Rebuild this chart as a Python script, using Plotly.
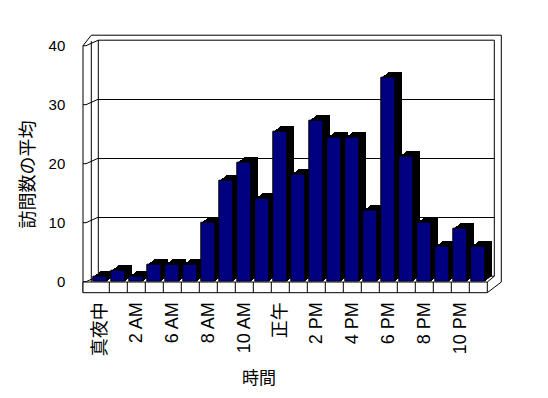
import plotly.graph_objects as go

# ---------------- data ----------------
hours = ["真夜中", "1 AM", "2 AM", "4 AM", "6 AM", "7 AM", "8 AM", "9 AM", "10 AM", "11 AM",
         "正午", "1 PM", "2 PM", "3 PM", "4 PM", "5 PM", "6 PM", "7 PM", "8 PM", "9 PM",
         "10 PM", "11 PM"]
visits = [0.9, 1.9, 0.9, 2.9, 2.9, 2.9, 10, 17.1, 20.2, 14.1, 25.4, 18.1, 27.3, 24.4,
          24.4, 12, 34.6, 21.2, 10, 5.9, 9, 5.9]
y_ticks = [0, 10, 20, 30, 40]
x_title = "時間"
y_title = "訪問数の平均"

# ---------------- geometry (pixels) ----------------
FIG_W, FIG_H = 548, 398
PAGE_OFF = 8                # default body margin of the html page
ML, MR, MT, MB = 72, 48, 22, 108
PW = FIG_W - ML - MR
PH = FIG_H - MT - MB

def xp(px):
    return (px - PAGE_OFF - ML) / PW

def yp(py):
    return (FIG_H - MB - (py - PAGE_OFF)) / PH

FX0, FX1 = 91.3, 487.3      # front plane, category span
FY0, FY1 = 281.7, 45.7      # front plane, value 0 and value 40
DX, DY = 7.0, 5.5           # depth offset (right, up)
YMAX = 40
N = len(hours)
xs = list(range(N))
FONT = "Liberation Sans, Arial, Noto Sans CJK JP, sans-serif"

fig = go.Figure()
layout_axes = {}
depths = [7, 6, 5, 4, 3, 2, 1, 0]
for i, k in enumerate(depths):
    n = i + 1
    sfx = "" if n == 1 else str(n)
    dx = DX * k / 7
    dy = DY * k / 7
    front = (k == 0)
    back = (n == 1)
    fig.add_trace(go.Bar(
        x=xs, y=visits, width=0.83,
        marker=dict(color="#000080" if front else "#000000",
                    line=dict(color="#000000", width=1 if front else 0)),
        xaxis="x" + sfx, yaxis="y" + sfx,
        hoverinfo="skip", showlegend=False,
    ))
    xa = dict(domain=[xp(FX0 + dx), xp(FX1 + dx)], range=[-0.5, N - 0.5],
              anchor="y" + sfx, showgrid=False, zeroline=False, showline=False,
              ticks="", fixedrange=True)
    ya = dict(domain=[yp(FY0 - dy), yp(FY1 - dy)], range=[0, YMAX],
              anchor="x" + sfx, zeroline=False, showline=False, ticks="",
              fixedrange=True, tickvals=y_ticks)
    if front:
        xa.update(tickmode="array", tickvals=xs[::2], ticktext=hours[::2],
                  tickangle=-90, showticklabels=True, ticklabelstandoff=16,
                  tickfont=dict(family=FONT, size=18, color="#000000"))
        ya.update(showgrid=False, showticklabels=True, ticklabelstandoff=25,
                  tickfont=dict(family=FONT, size=15, color="#000000"))
    elif back:
        xa.update(showticklabels=False)
        ya.update(showgrid=True, gridcolor="#000000", gridwidth=1,
                  showticklabels=False)
    else:
        xa.update(visible=False)
        ya.update(visible=False)
    layout_axes["xaxis" + sfx] = xa
    layout_axes["yaxis" + sfx] = ya

FRONT = str(len(depths))

def yfront(v):
    return FY0 - v * (FY0 - FY1) / YMAX

shapes = []
def seg(x0, y0, x1, y1, layer="below"):
    shapes.append(dict(type="line", xref="paper", yref="paper",
                       x0=xp(x0), y0=yp(y0), x1=xp(x1), y1=yp(y1),
                       line=dict(color="#000000", width=1), layer=layer))

BX0, BX1 = FX0 + DX, FX1 + DX
BY0, BY1 = FY0 - DY, FY1 - DY
LW = 83.0                    # left wall outer x
FLB = 292.7                  # floor bottom
FLT = 282.0                  # floor top (front)
OUTX = BX1 + DX              # outer right edge
OUTY = BY1 - DY + 0.5        # outer top edge

# left wall
seg(LW, FY1, LW, FLB)
seg(FX0, FY1 - 4.5, FX0, FLT)
seg(BX0, BY1, BX0, BY0)
# back wall frame
seg(BX0, BY1, BX1, BY1)
seg(BX0, BY0, BX1, BY0)
seg(BX1, BY1, BX1, BY0)
# outer edges
seg(LW, FY1, FX0, OUTY)
seg(FX0, OUTY, OUTX, OUTY)
seg(OUTX, OUTY, OUTX, FLT)
seg(OUTX, FLT, FX1, FLB)
seg(FX1, FLT, BX1, BY0)
# left-wall grid segments
for v in y_ticks:
    yf = yfront(v)
    seg(LW, yf, LW + 3, yf)
    seg(LW + 3, yf, BX0, yf - DY)
# floor front face
shapes.append(dict(type="rect", xref="paper", yref="paper",
                   x0=xp(LW), y0=yp(FLB), x1=xp(FX1), y1=yp(FLT),
                   line=dict(color="#000000", width=1), fillcolor="#ffffff",
                   layer="below"))
for i in range(N - 1):
    shapes.append(dict(type="line", xref="x" + FRONT, yref="paper",
                       x0=i + 0.5, x1=i + 0.5, y0=yp(FLB), y1=yp(FLT),
                       line=dict(color="#000000", width=1), layer="below"))

annotations = [
    dict(text=y_title, xref="paper", yref="paper", x=xp(27.5), y=yp(175),
         textangle=-90, showarrow=False, xanchor="center", yanchor="middle",
         font=dict(family=FONT, size=18, color="#000000")),
    dict(text=x_title, xref="paper", yref="paper", x=xp(259), y=yp(378),
         showarrow=False, xanchor="center", yanchor="middle",
         font=dict(family=FONT, size=17, color="#000000")),
]

fig.update_layout(
    width=FIG_W, height=FIG_H,
    margin=dict(l=ML, r=MR, t=MT, b=MB, pad=0),
    paper_bgcolor="#ffffff", plot_bgcolor="rgba(0,0,0,0)",
    bargap=0, barmode="overlay",
    showlegend=False,
    shapes=shapes, annotations=annotations,
    font=dict(family=FONT, color="#000000"),
    **layout_axes,
)

fig.write_html("out.html", config={"displayModeBar": False})
